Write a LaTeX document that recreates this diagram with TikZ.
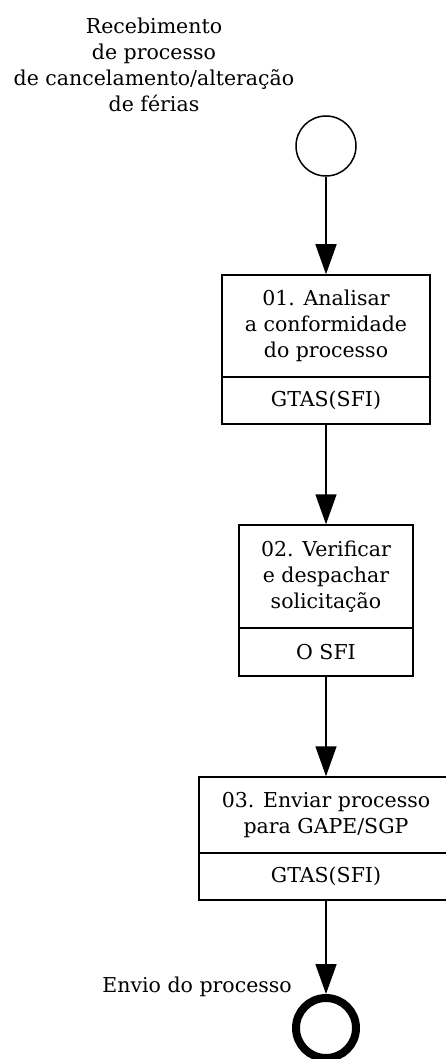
\documentclass[tikz,border=0pt]{standalone}
\usepackage{fontspec}
\setmainfont{DejaVu Serif}
\usetikzlibrary{arrows.meta}

\begin{document}
\begin{tikzpicture}[x=1pt,y=-1pt,
    txt/.style={font=\fontsize{20.5}{26}\selectfont, align=center, inner sep=0pt},
    task/.style={draw, line width=1.5pt, txt, inner sep=0pt},
    flow/.style={line width=1.6pt, -{Triangle[length=30pt,width=21pt]}}]
      \useasboundingbox (0,0) rectangle (445,1059);
      % start and end events
      \node[draw, circle, line width=1.5pt, minimum size=60pt, inner sep=0pt] (start) at (326,146) {};
      \node[draw, circle, line width=8pt, minimum size=60pt, inner sep=0pt] (stop) at (326,1028) {};
      \node[txt] (startlbl) at (154,65) {Recebimento\\de processo\\de cancelamento/alteração\\de férias};
      \node[txt, anchor=east] (stoplbl) at (292,987) {Envio do processo};
      % activities: text part and role part
      \node[task, minimum width=208pt, minimum height=102pt] (t1) at (326,326) {01. Analisar\\a conformidade\\do processo};
      \node[task, minimum width=208pt, minimum height=47pt] (r1) at (326,400.5) {GTAS(SFI)};
      \node[task, minimum width=174pt, minimum height=103pt] (t2) at (326,576.5) {02. Verificar\\e despachar\\solicitação};
      \node[task, minimum width=174pt, minimum height=48pt] (r2) at (326,652) {O SFI};
      \node[task, minimum width=254pt, minimum height=76pt] (t3) at (326,815) {03. Enviar processo\\para GAPE/SGP};
      \node[task, minimum width=254pt, minimum height=47pt] (r3) at (326,876.5) {GTAS(SFI)};
      \draw[flow] (start) -- (t1);
      \draw[flow] (r1) -- (t2);
      \draw[flow] (r2) -- (t3);
      \draw[flow] (r3) -- (stop);
    \end{tikzpicture}
\end{document}
